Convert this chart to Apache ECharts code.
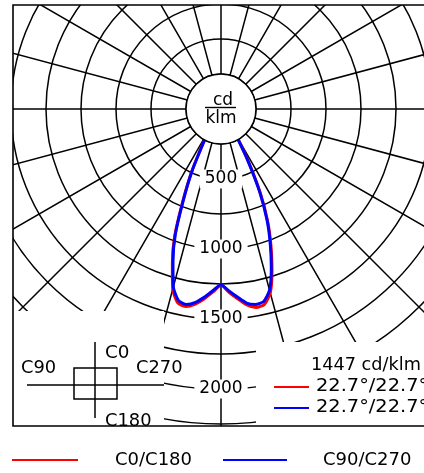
<!DOCTYPE html>
<html>
<head>
<meta charset="utf-8">
<script src="https://cdn.jsdelivr.net/npm/echarts@6/dist/echarts.min.js"></script>
<style>
  html, body { margin: 0; padding: 0; background: #fff; }
  #chart { width: 424px; height: 473px; }
</style>
</head>
<body>
<div id="chart"></div>
<script>
// Luminous intensity (cd/klm) sampled from nadir outwards, in degrees
const gammaAngles = [0, 2.5, 5, 7.5, 10, 12.5, 15, 17.5, 20, 22.5, 25, 27.5, 30];
// C0/C180 plane: C180 half drawn left, C0 half drawn right
const c180Values = [1258, 1308, 1360, 1405, 1432, 1420, 1332, 1155, 968, 712, 502, 282, 160];
const c0Values   = [1258, 1310, 1360, 1412, 1440, 1430, 1360, 1212, 1045, 872, 668, 425, 220];
// C90/C270 plane: C90 half drawn left, C270 half drawn right
const c90Values  = [1255, 1298, 1348, 1393, 1418, 1402, 1315, 1140, 955, 700, 490, 270, 150];
const c270Values = [1255, 1300, 1348, 1398, 1418, 1408, 1340, 1195, 1030, 860, 655, 412, 210];

const radiusTickLabels = [500, 1000, 1500, 2000];
const legendNames = ['C0/C180', 'C90/C270'];
const peakText = '1447 cd/klm';
const beamTexts = ['22.7°/22.7°', '22.7°/22.7°'];
const planeNames = ['C0', 'C90', 'C270', 'C180'];
const unitTop = 'cd';
const unitBottom = 'klm';

const FONT = 'DejaVu Sans';
const FS = 17;
const CX = 221, CY = 109, R = 385, RMAX = 2750;
const RED = '#ff0000', BLUE = '#0000ff';

// angle axis runs clockwise from nadir: left half uses gamma, right half uses 360 - gamma
function planeCurve(leftVals, rightVals) {
  const pts = [];
  for (let i = gammaAngles.length - 1; i >= 0; i--) pts.push([leftVals[i], gammaAngles[i]]);
  for (let i = 1; i < gammaAngles.length; i++) pts.push([rightVals[i], 360 - gammaAngles[i]]);
  return pts;
}

const gridLine = { color: '#000', width: 1.5 };
const textBase = { fontFamily: FONT, fontSize: FS, fill: '#000' };
function label(text, x, y, z, sx) {
  return { type: 'text', z: z, x: x, y: y, scaleX: sx || 1,
    style: Object.assign({ text: text, verticalAlign: 'middle' }, textBase) };
}

const chart = echarts.init(document.getElementById('chart'), null, { renderer: 'canvas' });

chart.setOption({
  animation: false,
  backgroundColor: '#fff',
  polar: [
    { center: [CX, CY], radius: R },
    { center: [CX, CY], radius: R }
  ],
  angleAxis: [
    {
      polarIndex: 0, type: 'value', min: 0, max: 360, interval: 15, startAngle: 270,
      axisLine: { show: false }, axisTick: { show: false }, axisLabel: { show: false },
      splitLine: { show: true, lineStyle: gridLine }
    },
    {
      polarIndex: 1, type: 'value', min: 0, max: 360, interval: 15, startAngle: 270,
      axisLine: { show: false }, axisTick: { show: false }, axisLabel: { show: false },
      splitLine: { show: false }
    }
  ],
  radiusAxis: [
    {
      polarIndex: 0, type: 'value', min: 0, max: RMAX, interval: 250,
      axisLine: { show: false }, axisTick: { show: false }, axisLabel: { show: false },
      splitLine: { show: true, lineStyle: gridLine }
    },
    {
      polarIndex: 1, type: 'value', min: 0, max: RMAX, interval: 250, z: 5,
      axisLine: { show: false }, axisTick: { show: false }, splitLine: { show: false },
      axisLabel: {
        show: true, customValues: radiusTickLabels, margin: 0,
        formatter: (v) => String(v),
        align: 'center', verticalAlign: 'middle',
        fontFamily: FONT, fontSize: FS, color: '#000',
        backgroundColor: '#fff', padding: [1, 5, 1, 5]
      }
    }
  ],
  legend: [
    {
      data: [legendNames[0]], left: 12, top: 451, padding: 0,
      itemWidth: 66, itemHeight: 2, icon: 'rect', z: 20, selectedMode: false,
      textStyle: { fontFamily: FONT, fontSize: 18, color: '#000', padding: [0, 0, 0, 32] }
    },
    {
      data: [legendNames[1]], left: 223, top: 451, padding: 0,
      itemWidth: 64, itemHeight: 2, icon: 'rect', z: 20, selectedMode: false,
      textStyle: { fontFamily: FONT, fontSize: 18, color: '#000', padding: [0, 0, 0, 31] }
    }
  ],
  series: [
    {
      name: legendNames[0], type: 'line', coordinateSystem: 'polar', polarIndex: 0,
      data: planeCurve(c180Values, c0Values), symbol: 'none', smooth: 0.2, z: 2,
      lineStyle: { color: RED, width: 3 }, itemStyle: { color: RED }
    },
    {
      name: legendNames[1], type: 'line', coordinateSystem: 'polar', polarIndex: 0,
      data: planeCurve(c90Values, c270Values), symbol: 'none', smooth: 0.2, z: 3,
      lineStyle: { color: BLUE, width: 3 }, itemStyle: { color: BLUE }
    }
  ],
  graphic: [
    // lower-left panel with C-plane symbol
    { type: 'rect', z: 10, shape: { x: 13, y: 311, width: 151, height: 115 }, style: { fill: '#fff' } },
    // lower-right panel with peak value and beam angles
    { type: 'rect', z: 10, shape: { x: 256, y: 342, width: 168, height: 84 }, style: { fill: '#fff' } },
    // plane name partly hidden under the frame's lower edge
    label(planeNames[3], 105, 422, 11, 1.05),
    // blank margins round the frame
    { type: 'rect', z: 12, shape: { x: 0, y: 0, width: 424, height: 5 }, style: { fill: '#fff' } },
    { type: 'rect', z: 12, shape: { x: 0, y: 0, width: 13, height: 473 }, style: { fill: '#fff' } },
    { type: 'rect', z: 12, shape: { x: 0, y: 426, width: 424, height: 47 }, style: { fill: '#fff' } },
    // frame
    { type: 'rect', z: 13, shape: { x: 13, y: 5, width: 420, height: 421 },
      style: { fill: null, stroke: '#000', lineWidth: 1.6 } },
    // hub with unit
    { type: 'circle', z: 10, shape: { cx: CX, cy: CY, r: 35 },
      style: { fill: '#fff', stroke: '#000', lineWidth: 1.5 } },
    { type: 'text', z: 14, x: 223, y: 101, style: Object.assign({ text: unitTop, align: 'center', verticalAlign: 'middle' }, textBase) },
    { type: 'line', z: 14, shape: { x1: 205, y1: 107.5, x2: 236, y2: 107.5 }, style: { stroke: '#000', lineWidth: 1.4 } },
    { type: 'text', z: 14, x: 221, y: 119, style: Object.assign({ text: unitBottom, align: 'center', verticalAlign: 'middle' }, textBase) },
    // C-plane symbol
    { type: 'line', z: 11, shape: { x1: 95, y1: 342, x2: 95, y2: 418 }, style: { stroke: '#000', lineWidth: 1.5 } },
    { type: 'line', z: 11, shape: { x1: 27, y1: 385, x2: 164, y2: 385 }, style: { stroke: '#000', lineWidth: 1.5 } },
    { type: 'rect', z: 11, shape: { x: 74, y: 368, width: 43, height: 31 },
      style: { fill: null, stroke: '#000', lineWidth: 1.5 } },
    label(planeNames[0], 105, 354, 14, 1.08),
    label(planeNames[1], 21, 369, 14, 1.05),
    label(planeNames[2], 136, 369, 14, 1.05),
    // peak value and beam angles
    label(peakText, 311, 366, 14, 1.04),
    { type: 'line', z: 14, shape: { x1: 274, y1: 387, x2: 309, y2: 387 }, style: { stroke: RED, lineWidth: 2 } },
    label(beamTexts[0], 316, 387, 14, 1.14),
    { type: 'line', z: 14, shape: { x1: 274, y1: 408, x2: 309, y2: 408 }, style: { stroke: BLUE, lineWidth: 2 } },
    label(beamTexts[1], 316, 408, 14, 1.14)
  ]
});
</script>
</body>
</html>
